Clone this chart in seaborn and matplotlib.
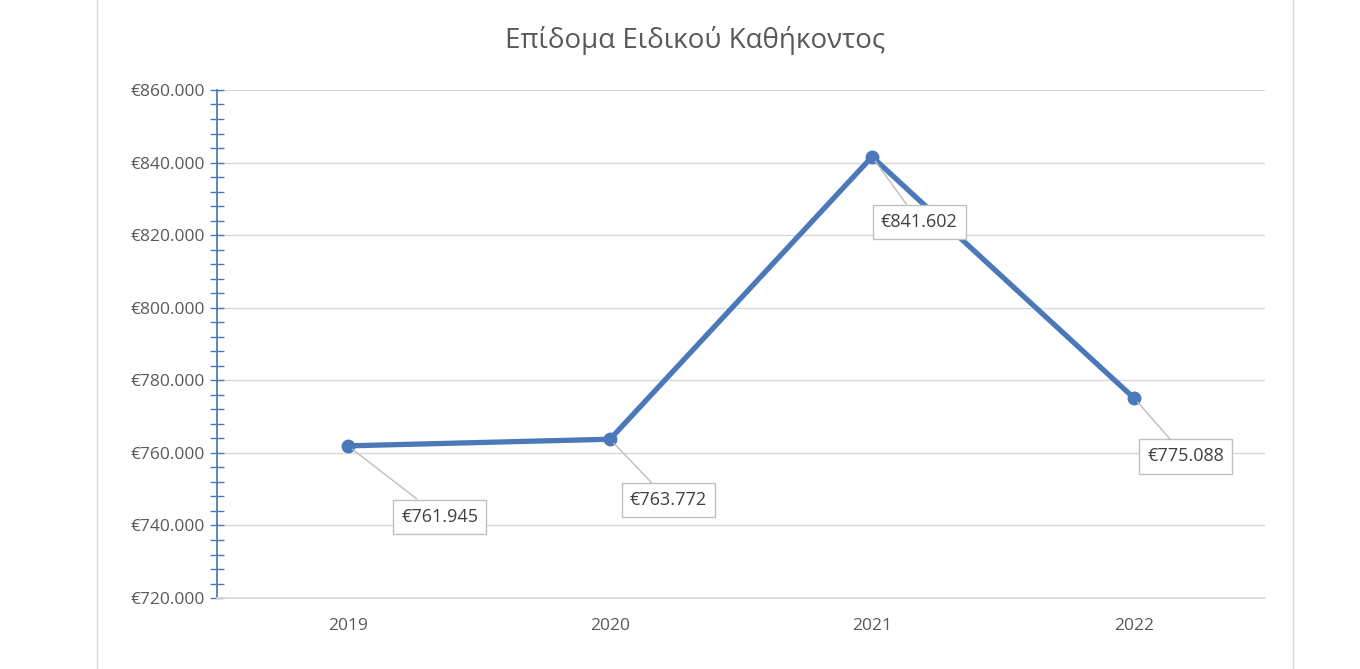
import matplotlib
matplotlib.use("Agg")
import matplotlib.pyplot as plt
import seaborn as sns
import pandas as pd
from matplotlib.ticker import MultipleLocator, FuncFormatter

years = ["2019", "2020", "2021", "2022"]
values = [761945, 763772, 841602, 775088]
labels = ["€761.945", "€763.772", "€841.602", "€775.088"]
offsets = [(66, -51), (42, -44), (34, -47), (37, -42)]

sns.set_theme(style="white")
plt.rcParams["font.family"] = ["Open Sans", "DejaVu Sans"]

df = pd.DataFrame({"year": range(len(years)), "value": values})

fig = plt.figure(figsize=(13.6, 6.69), dpi=100)
ax = fig.add_axes([0.1596, 0.106, 0.7706, 0.7595])

# chart frame lines at the sides
for xf in (97 / 1360, 1293 / 1360):
    fig.add_artist(plt.Line2D([xf, xf], [0, 1], color="#d9d9d9", lw=1))

sns.lineplot(data=df, x="year", y="value", ax=ax, color="#4a78b8", lw=3.8,
             marker="o", markersize=10, markeredgewidth=0)

for i, (v, lab, off) in enumerate(zip(values, labels, offsets)):
    ax.annotate(lab, xy=(i, v), xytext=off, textcoords="offset points",
                ha="center", va="center", fontsize=13, color="#404040",
                bbox=dict(boxstyle="square,pad=0.45", fc="white", ec="#bfbfbf", lw=1),
                arrowprops=dict(arrowstyle="-", color="#bfbfbf", lw=1, shrinkA=0, shrinkB=4))

ax.set_xlim(-0.5, 3.5)
ax.set_ylim(720000, 860000)
ax.set_xticks(range(len(years)))
ax.set_xticklabels(years)
ax.yaxis.set_major_locator(MultipleLocator(20000))
ax.yaxis.set_minor_locator(MultipleLocator(4000))
ax.yaxis.set_major_formatter(FuncFormatter(lambda v, p: "€" + f"{int(v):,}".replace(",", ".")))
ax.grid(axis="y", color="#d9d9d9", lw=1)
ax.set_axisbelow(True)
for s in ("top", "right"):
    ax.spines[s].set_visible(False)
ax.spines["left"].set_color("#4a78b8")
ax.spines["bottom"].set_color("#d9d9d9")
ax.tick_params(axis="y", which="both", direction="inout", color="#4a78b8", left=True)
ax.tick_params(axis="y", which="major", length=10, width=1)
ax.tick_params(axis="y", which="minor", length=10, width=1)
ax.tick_params(axis="x", length=0, pad=14)
ax.tick_params(labelsize=12.5, labelcolor="#595959")
ax.set_xlabel("")
ax.set_ylabel("")
fig.text(0.511, 0.94, "Επίδομα Ειδικού Καθήκοντος", ha="center", va="center",
         fontsize=20, color="#595959")

fig.savefig("out.png", dpi=100)
